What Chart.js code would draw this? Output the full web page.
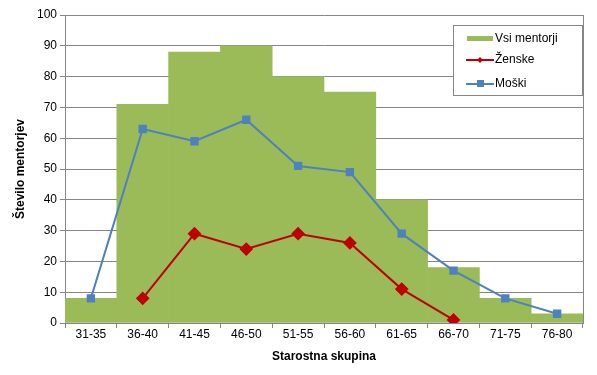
<!DOCTYPE html>
<html>
<head>
<meta charset="utf-8">
<script src="https://cdn.jsdelivr.net/npm/chart.js@4.4.0/dist/chart.umd.min.js"></script>
<style>
  html, body { margin: 0; padding: 0; background: #fff; }
  #wrap { width: 597px; height: 375px; }
</style>
</head>
<body>
<div id="wrap"><canvas id="myChart" width="597" height="375"></canvas></div>
<script>
const labels = ['31-35', '36-40', '41-45', '46-50', '51-55', '56-60', '61-65', '66-70', '71-75', '76-80'];
const vsi = [8, 71, 88, 90, 80, 75, 40, 18, 8, 3];
const zenske = [null, 8, 29, 24, 29, 26, 11, 1, null, null];
const moski = [8, 63, 59, 66, 51, 49, 29, 17, 8, 3];
const yTicks = [0, 10, 20, 30, 40, 50, 60, 70, 80, 90, 100];

const FONT = 'Liberation Sans, Arial, sans-serif';

// legend box drawn inside the plot area, top right
const boxLegend = {
  id: 'boxLegend',
  afterDraw(chart) {
    const c = chart.ctx;
    const x = 453, y = 25, w = 129, h = 70;
    c.save();
    c.fillStyle = '#fff';
    c.fillRect(x, y, w, h);
    c.strokeStyle = '#868686';
    c.lineWidth = 1;
    c.strokeRect(x + 0.5, y + 0.5, w, h);
    c.font = '12px ' + FONT;
    c.textBaseline = 'middle';
    // Vsi mentorji
    c.fillStyle = '#9BBB59';
    c.fillRect(467, 36, 26, 5);
    c.fillStyle = '#000';
    c.fillText('Vsi mentorji', 495, 39);
    // Ženske
    c.strokeStyle = '#C00000';
    c.lineWidth = 2;
    c.beginPath(); c.moveTo(466, 60); c.lineTo(494, 60); c.stroke();
    c.fillStyle = '#C00000';
    c.beginPath(); c.moveTo(480, 57); c.lineTo(483, 60); c.lineTo(480, 63); c.lineTo(477, 60); c.closePath(); c.fill();
    c.fillStyle = '#000';
    c.fillText('Ženske', 495, 60);
    // Moški
    c.strokeStyle = '#4F81BD';
    c.beginPath(); c.moveTo(466, 84); c.lineTo(494, 84); c.stroke();
    c.fillStyle = '#4F81BD';
    c.fillRect(477, 80, 7, 7);
    c.fillStyle = '#000';
    c.fillText('Moški', 495, 84);
    c.restore();
  }
};

const ctx = document.getElementById('myChart').getContext('2d');
const myChart = new Chart(ctx, {
  data: {
    labels: labels,
    datasets: [
      {
        type: 'line',
        label: 'Moški',
        data: moski,
        borderColor: '#4F81BD',
        backgroundColor: '#4F81BD',
        borderWidth: 2,
        pointStyle: 'rect',
        pointRadius: 4.5,
        pointHoverRadius: 4.5,
        tension: 0,
        order: 1
      },
      {
        type: 'line',
        label: 'Ženske',
        data: zenske,
        borderColor: '#C00000',
        backgroundColor: '#C00000',
        borderWidth: 2,
        pointStyle: 'rectRot',
        pointRadius: 5.5,
        pointHoverRadius: 5.5,
        spanGaps: false,
        tension: 0,
        order: 0
      },
      {
        type: 'bar',
        label: 'Vsi mentorji',
        data: vsi,
        backgroundColor: '#9BBB59',
        borderWidth: 0,
        barPercentage: 1.0,
        categoryPercentage: 1.0,
        order: 2
      }
    ]
  },
  options: {
    responsive: false,
    animation: false,
    layout: { padding: { top: 15, right: 14, bottom: 0, left: 0 } },
    plugins: {
      legend: { display: false },
      tooltip: { enabled: false }
    },
    scales: {
      x: {
        offset: true,
        afterFit(axis) { axis.height = 52; },
        grid: {
          display: true,
          drawOnChartArea: false,
          offset: true,
          color: '#868686',
          tickLength: 5
        },
        border: { color: '#868686' },
        ticks: { color: '#000', font: { family: FONT, size: 12 }, padding: -1, maxRotation: 0 },
        title: {
          display: true,
          text: 'Starostna skupina',
          color: '#000',
          font: { family: FONT, size: 12, weight: 'bold' },
          padding: { top: 0, bottom: 11 }
        }
      },
      y: {
        min: 0,
        max: 100,
        afterFit(axis) { axis.width = 65; },
        afterBuildTicks(axis) { axis.ticks = yTicks.map(v => ({ value: v })); },
        grid: { color: '#868686', tickLength: 5 },
        border: { color: '#868686' },
        ticks: { color: '#000', font: { family: FONT, size: 12 }, padding: 3 },
        title: {
          display: true,
          text: 'Število mentorjev',
          color: '#000',
          font: { family: FONT, size: 12, weight: 'bold' },
          padding: { top: 13, bottom: 0 }
        }
      }
    }
  },
  plugins: [boxLegend, {
    id: 'rightBorder',
    afterDraw(chart) {
      const a = chart.chartArea, c = chart.ctx;
      c.save();
      c.strokeStyle = '#868686';
      c.lineWidth = 1;
      c.beginPath();
      c.moveTo(Math.round(a.right) + 0.5, a.top);
      c.lineTo(Math.round(a.right) + 0.5, a.bottom);
      c.stroke();
      c.restore();
    }
  }]
});
</script>
</body>
</html>
